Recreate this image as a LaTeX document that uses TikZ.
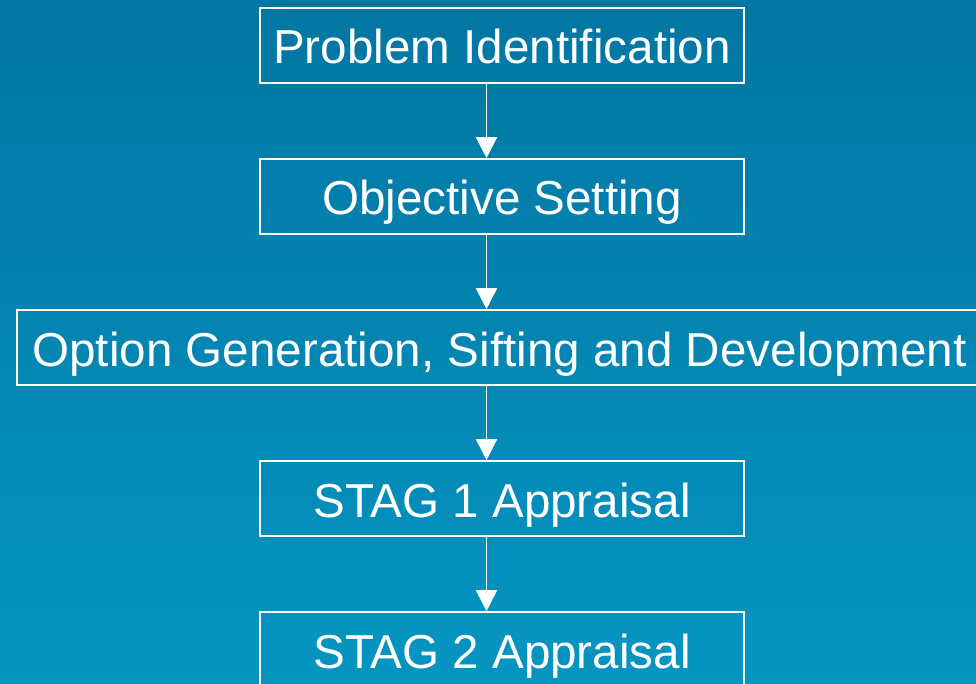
\documentclass[tikz,border=0pt]{standalone}
\usepackage{fontspec}
\setmainfont{Liberation Sans}
\usetikzlibrary{arrows.meta}
\definecolor{bgtop}{RGB}{3,118,162}
\definecolor{bgbot}{RGB}{5,149,193}
\tikzset{
  stepbox/.style={draw=white, line width=1.6pt, inner sep=0pt, text=white,
    minimum height=75pt, text height=37pt, text depth=0pt,
    font=\fontsize{47.6pt}{50pt}\selectfont},
  arr/.style={draw=white, line width=1.8pt, -{Triangle[length=21pt,width=21pt]}}
}
\begin{document}
\begin{tikzpicture}[x=1pt,y=-1pt]
\useasboundingbox (0,0) rectangle (976,684);
\clip (0,0) rectangle (976,684);
\shade[top color=bgtop, bottom color=bgbot] (0,0) rectangle (976,684);
\node[stepbox, minimum width=484pt] (a) at (502,45.5) {Problem Identification};
\node[stepbox, minimum width=484pt] (b) at (502,196.5) {Objective Setting};
\node[stepbox, minimum width=965pt] (c) at (499.5,347.5) {Option Generation, Sifting and Development};
\node[stepbox, minimum width=484pt] (d) at (502,498.5) {STAG 1 Appraisal};
\node[stepbox, minimum width=484pt] (e) at (502,649.5) {STAG 2 Appraisal};
\coordinate (ax) at (486.5,0);
\draw[arr] (a.south -| ax) -- (b.north -| ax);
\draw[arr] (b.south -| ax) -- (c.north -| ax);
\draw[arr] (c.south -| ax) -- (d.north -| ax);
\draw[arr] (d.south -| ax) -- (e.north -| ax);
\end{tikzpicture}
\end{document}
